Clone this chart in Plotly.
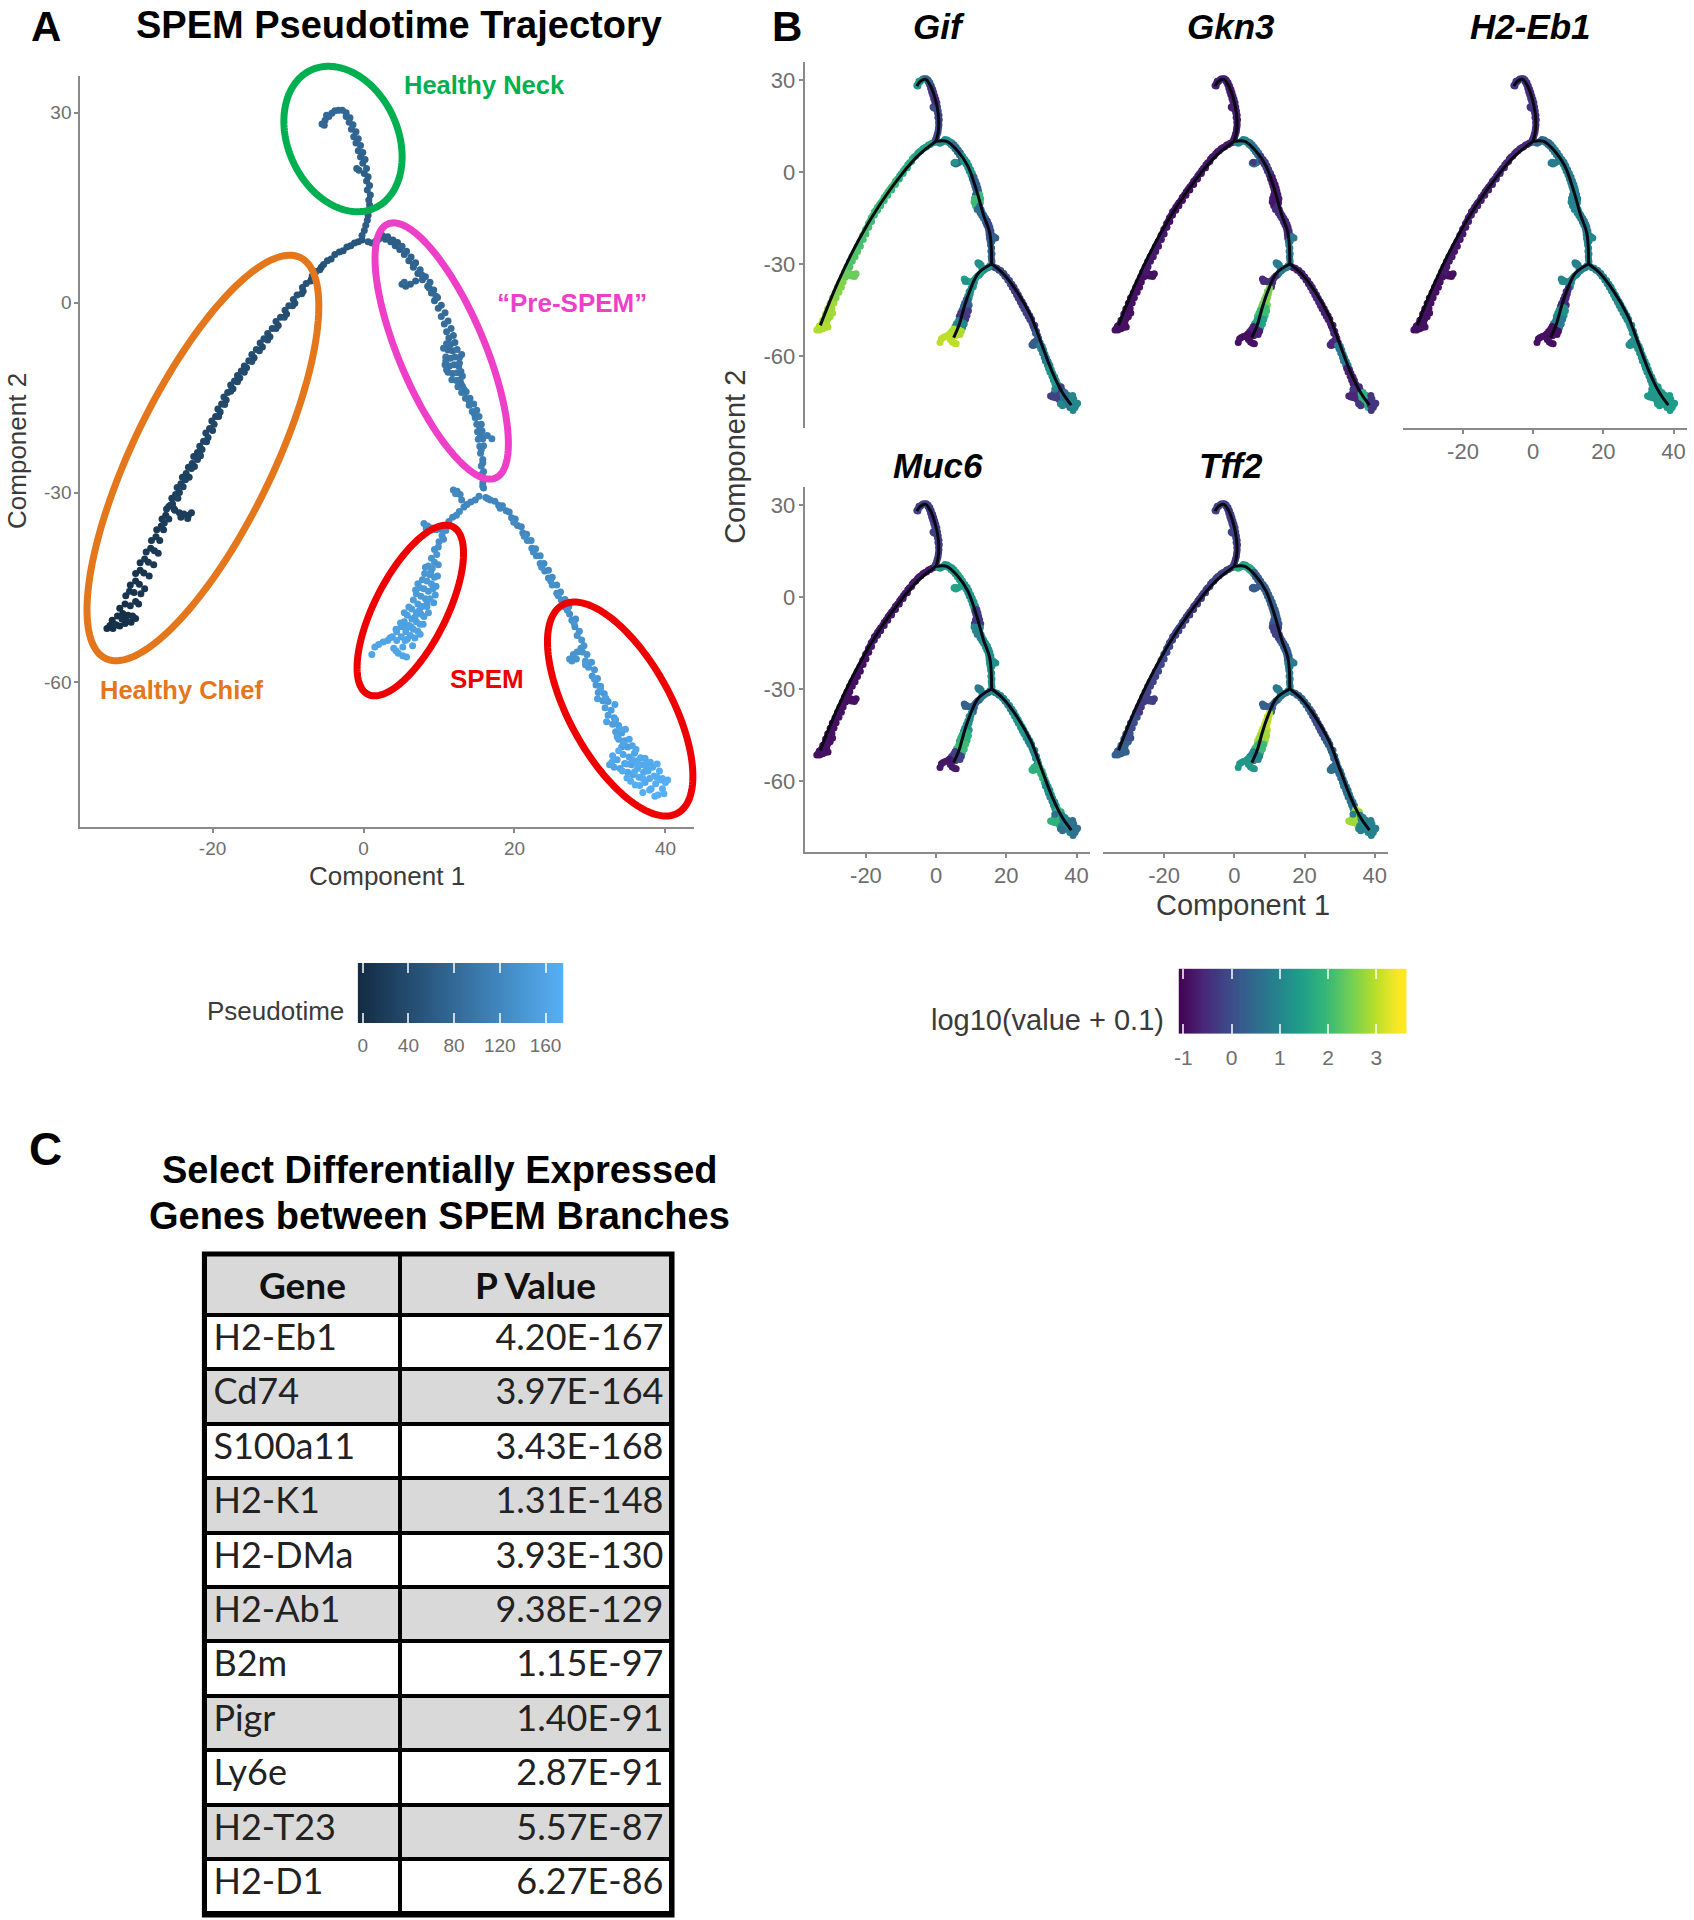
import numpy as np
import plotly.graph_objects as go

# ---------- cell positions (Component 1, Component 2) ----------
left_x = [-34.0,-33.6,-33.2,-32.8,-32.3,-31.6,-30.8,-33.3,-32.6,-31.9,-31.2,-32.3,-31.6,-30.9,-30.2,-31.5,-31.0,-30.4,-29.5,-30.9,-30.2,-29.7,-30.2,-29.6,-29.1,-29.6,-29.0,-28.5,-28.8,-28.2,-27.7,-28.1,-27.5,-27.0,-27.4,-26.8,-26.5,-26.7,-26.2,-25.8,-26.1,-25.8,-25.0,-24.4,-23.8,-23.2,-22.8,-23.3,-24.2,-25.6,-25.1,-25.4,-24.9,-24.6,-24.7,-24.2,-23.9,-24.0,-23.5,-23.1,-23.2,-22.7,-22.4,-22.5,-22.0,-21.6,-21.7,-21.2,-20.8,-20.9,-20.4,-20.0,-20.1,-19.6,-19.2,-19.3,-18.8,-18.4,-18.5,-18.0,-17.6,-17.6,-17.1,-16.7,-16.7,-16.2,-15.8,-15.8,-15.2,-14.8,-14.8,-14.2,-13.8,-13.7,-13.2,-12.7,-12.7,-12.1,-11.6,-11.6,-11.0,-10.5,-10.4,-9.9,-9.4,-9.3,-8.8,-8.2,-8.1,-7.6,-7.0,-6.8,-6.3,-5.8,-5.3,-4.8,-4.3,-3.8,-3.2,-2.7,-2.2,-1.7,-1.2,-0.7,-0.2]
left_y = [-51.5,-51.0,-51.5,-50.9,-51.1,-50.7,-50.5,-50.2,-49.5,-49.1,-49.4,-48.3,-47.6,-47.9,-47.2,-46.3,-45.6,-45.8,-46.0,-44.6,-44.0,-44.5,-42.8,-42.3,-42.7,-41.1,-40.5,-41.0,-39.4,-38.8,-39.2,-37.6,-37.0,-37.6,-35.9,-35.3,-35.9,-34.2,-33.6,-34.2,-32.6,-32.2,-32.8,-33.2,-33.4,-33.6,-33.2,-34.1,-33.9,-32.0,-32.6,-30.9,-30.3,-30.9,-29.2,-28.6,-29.1,-27.6,-27.0,-27.6,-26.0,-25.4,-25.9,-24.3,-23.7,-24.2,-22.7,-21.9,-22.0,-20.6,-19.9,-20.2,-18.7,-18.0,-18.0,-16.8,-16.0,-16.1,-14.9,-14.2,-14.0,-13.0,-12.4,-12.5,-11.5,-10.8,-11.0,-10.0,-9.2,-9.3,-8.2,-7.4,-7.6,-6.4,-5.7,-5.9,-4.9,-4.1,-4.1,-3.0,-2.3,-2.3,-1.2,-0.5,-0.5,0.5,1.2,1.4,2.4,3.0,3.4,4.2,4.9,5.2,6.0,6.6,6.9,7.6,8.0,8.2,8.8,9.0,9.4,9.6,9.9]

neck_x = [-0.2,0.1,0.3,0.5,0.6,0.7,0.8,0.7,0.9,0.5,0.8,0.4,0.6,0.1,0.4,-0.6,-0.9,-0.1,0.2,-0.4,-0.1,-0.7,-0.4,-1.0,-0.7,-1.3,-1.0,-1.6,-1.4,-1.9,-1.8,-2.3,-2.3,-2.8,-3.3,-3.8,-4.2,-4.6,-4.9,-5.1,-5.5,-5.2]
neck_y = [10.6,11.4,12.2,13.0,13.8,14.6,15.4,16.2,17.0,17.8,18.5,19.2,19.9,20.4,21.2,20.9,21.2,22.0,22.6,23.0,23.7,24.0,24.8,25.2,25.9,26.2,27.0,27.4,28.1,28.5,29.2,29.4,30.0,30.4,30.4,30.3,29.9,29.4,29.6,28.8,28.2,28.0]

pre_x = [0.6,1.1,1.6,2.0,2.5,2.9,3.2,3.6,3.9,4.2,4.5,4.8,5.1,5.4,5.7,6.0,6.3,6.6,6.9,7.2,6.9,6.2,5.6,5.1,5.4,7.5,7.8,8.2,8.5,8.8,9.0,9.3,9.4,9.8,9.9,10.3,10.3,10.8,10.7,11.2,11.0,11.6,11.3,11.9,11.5,12.1,11.2,11.8,12.4,10.9,11.5,12.1,12.7,10.8,11.4,12.0,12.6,11.2,11.8,12.4,11.7,12.3,12.8,12.5,13.1,13.0,13.6,13.5,14.1,14.0,14.6,14.4,15.0,14.8,15.3,15.0,15.6,15.1,15.7,15.2,15.8,15.4,15.9,17.0,16.4,15.5,15.8,15.6,15.9,15.7,15.8,15.9]
pre_y = [9.6,9.4,9.7,10.0,10.6,10.0,10.4,9.6,9.9,9.0,9.5,8.4,8.9,7.6,8.1,6.6,7.2,5.6,6.3,4.6,3.4,2.9,2.6,2.9,3.2,5.2,3.6,4.1,2.6,3.2,1.5,2.0,0.3,0.8,-0.9,-0.4,-2.2,-1.6,-3.4,-2.9,-4.6,-4.1,-5.6,-5.2,-6.6,-6.3,-7.5,-7.6,-7.4,-8.6,-8.8,-8.6,-8.7,-9.8,-10.0,-9.8,-10.0,-11.0,-11.2,-11.1,-12.2,-12.3,-12.2,-13.3,-13.2,-14.2,-14.1,-15.1,-15.1,-16.2,-16.0,-17.2,-17.0,-18.2,-18.0,-19.2,-19.2,-20.4,-20.3,-21.6,-21.5,-22.7,-22.6,-21.5,-21.0,-23.8,-24.8,-25.8,-26.7,-27.6,-28.5,-29.3]

right_x = [16.2,16.8,17.4,17.9,18.4,18.9,19.3,19.6,20.1,20.4,20.9,21.1,21.6,21.7,22.2,22.3,22.8,22.9,23.4,23.4,23.9,24.0,24.5,24.5,25.0,25.0,25.6,25.6,26.1,26.2,26.7,26.7,27.2,27.3,27.6,28.1,28.0,28.6,28.3,28.9,28.8,28.3,27.8,27.3,27.6,28.2,29.2,29.0,29.6,29.4,30.2,29.8,30.6,30.3,31.0,30.8,31.4,31.1,31.9,31.7,32.4,32.0,32.8,32.4,33.2,33.0,33.8,33.4,34.2,33.8,34.6,34.2,35.0,35.6,32.6,33.2,33.6,34.0,34.4,34.6,35.0,35.2,35.5,35.7,35.9,36.1,36.3,36.5,36.7,36.9,37.1,37.3,37.5,37.7,37.9,38.1,38.3,38.5,38.7,39.0,39.2,39.4,39.6,40.0,40.3,35.4,33.8,38.9,36.0]
right_y = [-30.8,-31.2,-31.4,-32.0,-32.1,-32.9,-33.1,-34.0,-34.2,-35.2,-35.4,-36.4,-36.6,-37.6,-37.6,-38.8,-38.9,-40.0,-40.0,-41.2,-41.2,-42.4,-42.3,-43.5,-43.4,-44.6,-44.6,-45.9,-45.7,-47.0,-46.9,-48.1,-48.0,-49.2,-50.2,-50.0,-51.2,-51.9,-52.6,-53.3,-54.6,-55.2,-55.6,-56.3,-56.6,-56.3,-54.2,-55.2,-55.6,-56.6,-56.8,-57.6,-58.0,-59.0,-59.4,-60.4,-60.6,-61.6,-61.8,-62.9,-63.0,-64.0,-64.4,-65.2,-65.6,-66.6,-66.8,-67.8,-68.0,-69.0,-69.2,-70.2,-70.2,-70.0,-73.0,-73.4,-72.2,-73.6,-71.4,-72.8,-74.2,-71.8,-73.0,-74.6,-71.2,-72.4,-73.6,-75.0,-71.9,-73.0,-74.2,-75.8,-72.8,-74.0,-75.2,-76.8,-73.4,-74.8,-76.0,-77.8,-74.0,-75.4,-76.8,-75.8,-75.4,-75.6,-70.8,-72.9,-76.2]

spem_x = [15.3,14.8,14.2,13.7,13.3,13.0,12.8,12.4,11.9,12.2,12.7,12.3,11.8,11.3,10.8,10.2,9.6,9.0,8.5,8.0,8.3,10.9,10.4,10.6,10.0,9.9,9.4,9.7,9.0,9.4,8.6,9.1,8.1,8.8,9.4,7.8,8.4,9.0,7.4,8.0,8.6,9.2,7.0,7.6,8.2,8.8,6.6,7.2,7.8,8.4,6.4,7.0,7.6,8.0,5.8,6.4,7.0,7.5,5.4,6.0,6.6,7.2,5.0,5.6,6.2,6.8,4.4,5.0,5.5,3.8,4.4,3.2,2.6,2.0,1.5,4.0,4.6,5.2,5.7,1.1]
spem_y = [-30.6,-31.2,-31.5,-31.9,-32.3,-31.2,-30.3,-29.8,-29.6,-30.2,-33.0,-33.6,-33.9,-34.6,-35.2,-35.8,-35.9,-35.6,-35.3,-34.9,-35.7,-36.0,-36.8,-37.4,-37.8,-38.6,-39.0,-39.8,-40.4,-41.0,-41.6,-42.0,-42.8,-43.0,-43.4,-43.8,-44.0,-44.4,-45.0,-45.2,-45.6,-45.2,-46.0,-46.4,-46.8,-46.8,-47.0,-47.6,-48.0,-48.0,-48.4,-49.0,-49.2,-49.6,-49.4,-50.0,-50.4,-50.8,-50.4,-51.0,-51.6,-51.9,-51.2,-52.0,-52.6,-53.0,-52.0,-52.8,-53.4,-52.8,-53.4,-53.4,-53.6,-54.0,-54.4,-54.6,-55.4,-55.8,-56.0,-55.6]

# further cells that fill out the thick stretches in panel A
fill_left_x = [-33.0,-32.0,-31.5,-30.6,-30.2,-29.8,-29.0,-28.4,-27.8,-27.2,-26.4,-25.3,-24.4,-23.6,-22.8,-22.0,-21.4,-20.6,-19.8,-19.0,-18.2,-17.3,-16.4,-15.5,-14.5,-13.4,-12.4,-11.3,-10.2,-9.1,-8.0,-6.9,-5.6]
fill_left_y = [-50.9,-50.0,-50.0,-49.5,-49.9,-47.6,-45.2,-43.2,-41.4,-39.6,-34.8,-31.8,-30.0,-28.0,-26.2,-24.8,-23.2,-21.3,-19.2,-17.3,-15.4,-13.6,-11.9,-10.3,-8.7,-7.0,-5.4,-3.6,-1.8,-0.1,1.8,3.7,5.6]
fill_left_t = [3,4,4,5,5,8,10,12,14,16,20,22,24,26,28,29,30,31,32,33,34,35,36,37,38,39,40,41,42,43,44,45,46]
fill_pre_x = [6.6,7.7,8.7,9.6,10.6,11.0,12.7,13.0,12.9,13.1,11.0,10.9,13.3,12.9,14.0,14.7,15.4,15.5,15.6,15.8,15.7,15.8]
fill_pre_y = [6.0,4.4,2.3,1.0,-7.2,-6.5,-9.6,-8.2,-10.9,-11.6,-10.6,-9.2,-13.7,-12.8,-15.6,-17.6,-19.6,-21.0,-23.2,-25.3,-27.1,-29.0]
fill_pre_t = [72,76,78,82,92,90,94,92,96,96,94,94,98,97,100,102,104,104,106,106,108,110]
fill_right_x = [16.5,18.1,19.9,21.3,22.5,23.6,24.8,25.8,27.0,27.9,29.4,30.6,31.4,32.1,33.4,34.0,34.4,33.0,32.9,34.9,34.3,36.6,37.3,38.0,37.0,37.9,38.6,34.9,36.1,35.2,33.6,31.0,33.3,32.2,34.7,35.9,37.0,38.9,36.4,37.5,35.6,39.6,39.8]
fill_right_y = [-31.0,-32.5,-34.7,-36.9,-39.4,-41.8,-44.0,-46.3,-48.6,-50.6,-57.2,-59.5,-61.0,-62.5,-65.9,-67.4,-69.7,-71.6,-72.6,-72.9,-74.0,-76.3,-72.0,-72.6,-77.4,-77.0,-78.0,-75.1,-70.6,-69.0,-68.6,-62.6,-63.5,-66.2,-67.4,-74.1,-75.2,-75.0,-72.9,-73.5,-72.2,-75.2,-77.6]
fill_right_t = [118,120,124,126,128,130,132,134,136,138,146,148,150,152,156,158,160,164,164,166,168,172,166,168,172,172,174,170,162,160,158,150,154,156,160,168,170,172,168,168,166,172,174]
fill_spem_x = [8.9,7.2,9.6,6.9,8.4,9.3,6.0,7.4,5.4,8.6,6.8,4.9,7.9,5.7,4.3,7.5,3.5,5.8,6.5,5.2,4.3,6.3,9.5,8.2,9.9,9.8]
fill_spem_y = [-42.6,-44.4,-44.8,-45.4,-47.6,-47.4,-48.1,-48.6,-49.0,-49.0,-49.7,-50.6,-50.8,-51.4,-51.6,-52.4,-53.0,-53.2,-54.2,-54.4,-55.0,-51.2,-46.2,-41.8,-41.4,-43.2]
fill_spem_t = [140,144,144,146,148,148,150,150,152,152,152,154,154,156,156,156,158,158,158,160,160,154,146,138,138,142]

# ---------- tree backbone drawn in black in panel B ----------
tree_left_x = [-33,-28,-22,-16,-10,-5,0]
tree_left_y = [-50,-36,-22,-10.5,-1,5.5,10]
tree_neck_x = [0,0.7,0.6,-0.3,-1.8,-3,-4.5,-5.5]
tree_neck_y = [10,14,19,24,28.5,30.2,29.6,28]
tree_pre_x = [0,3,6,9,11.5,13.5,15.3,15.8]
tree_pre_y = [10,10,7,2,-6,-14,-20,-30]
tree_right_x = [15.8,19,23,27,30,33,36,38.5]
tree_right_y = [-30,-33,-39,-47,-56,-65,-72,-76]
tree_spem_x = [15.8,12,9.5,8,6.5,5]
tree_spem_y = [-30,-33,-39,-44,-50,-54]

# ---------- colour readings, in order along each branch ----------
pseudotime = {
    "left":  [2, 8, 14, 20, 26, 32, 38, 44, 50, 54],
    "neck":  [62, 66, 70, 74, 76, 78],
    "pre":   [64, 70, 78, 86, 94, 100, 106, 110],
    "right": [118, 124, 130, 136, 142, 150, 158, 166, 172],
    "spem":  [118, 124, 132, 140, 146, 150, 154, 158, 160],
}
genes = ["Gif", "Gkn3", "H2-Eb1", "Muc6", "Tff2"]
expression = {
    "Gif": {"left": [2.9,2.8,2.6,2.4,2.2,2.1,2.0,2.0,1.8,1.5],
            "neck": [0.0,-0.2,0.0,-0.5,-0.3,0.3,1.3],
            "pre": [1.2,0.5,1.3,0.3,2.0,0.5,0.0,0.3],
            "right": [0.0,-0.3,-0.2,0.2,0.8,1.3,-0.2,0.6,1.0],
            "spem": [1.2,1.5,1.2,0.3,-0.3,1.0,2.9,3.0]},
    "Gkn3": {"left": [-0.9,-0.9,-0.8,-0.9,-0.8],
             "neck": [-0.8,-0.7,-0.8,-0.7],
             "pre": [1.0,0.6,-0.3,-0.8,-0.8,-0.5,-0.6,0.8],
             "right": [-0.7,-0.6,-0.7,-0.6,0.8,-0.7,-0.6,1.8,-0.4],
             "spem": [0.8,-0.5,2.5,2.0,1.5,-0.7,-0.9]},
    "H2-Eb1": {"left": [-0.9,-0.9,-0.8,-0.7,-0.6],
               "neck": [-0.5,-0.4,-0.5,-0.4],
               "pre": [0.5,0.8,0.8,0.9,1.0,0.8,1.0],
               "right": [1.0,1.1,1.1,1.2,1.2,1.3,1.3,1.4],
               "spem": [0.9,1.0,-0.6,1.2,0.8,-0.9,-0.9]},
    "Muc6": {"left": [-0.9,-0.9,-0.9,-0.8,-0.8],
             "neck": [-0.3,-0.2,-0.4,-0.2],
             "pre": [1.3,1.5,1.3,-0.3,1.0,1.2,1.2],
             "right": [1.0,1.3,1.0,1.8,1.2,1.8,1.0,0.6],
             "spem": [0.8,0.3,1.2,1.8,2.0,-0.2,-0.8]},
    "Tff2": {"left": [0.3,0.0,-0.3,-0.2,-0.1,-0.2,-0.3,-0.2],
             "neck": [-0.3,-0.2,-0.3,-0.2],
             "pre": [1.6,0.2,0.3,0.2,-0.2,0.2,0.8],
             "right": [0.4,0.0,0.3,0.5,0.6,2.8,1.0,0.9],
             "spem": [0.8,0.3,3.0,2.8,2.0,1.0,1.3]},
}

# ---------- table ----------
table_genes = ["H2-Eb1","Cd74","S100a11","H2-K1","H2-DMa","H2-Ab1","B2m","Pigr","Ly6e","H2-T23","H2-D1"]
table_pvalues = ["4.20E-167","3.97E-164","3.43E-168","1.31E-148","3.93E-130","9.38E-129","1.15E-97","1.40E-91","2.87E-91","5.57E-87","6.27E-86"]

# ---------- tick labels ----------
a_xticks = [-20, 0, 20, 40]
a_yticks = [30, 0, -30, -60]
pseudo_ticks = [0, 40, 80, 120, 160]
log_ticks = [-1, 0, 1, 2, 3]

branches = {"left": (left_x, left_y), "neck": (neck_x, neck_y), "pre": (pre_x, pre_y),
            "right": (right_x, right_y), "spem": (spem_x, spem_y)}
trees = [(tree_left_x, tree_left_y), (tree_neck_x, tree_neck_y), (tree_pre_x, tree_pre_y),
         (tree_right_x, tree_right_y), (tree_spem_x, tree_spem_y)]

W, H = 1694, 1920
FONT = "Liberation Sans"
GREY_TXT = "#6e6e6e"
AXIS = "#8a8a8a"
PSEUDO_SCALE = [[0, "#132B43"], [1, "#56B1F7"]]
DXA = -3   # page offset of panels A and C
DXB = -1   # page offset of panel B


def px(x):
    return x / W


def py(y):
    return 1 - y / H


def binned(n, readings):
    parts = np.array_split(np.arange(n), len(readings))
    out = np.zeros(n)
    for p, r in zip(parts, readings):
        out[p] = r
    return out


def axis(left, right, zero, scale, anchor, show=True, ticks=None, size=19, flip=False):
    if flip:
        rng = [(zero - right) / scale, (zero - left) / scale]
        dom = [py(right), py(left)]
    else:
        rng = [(left - zero) / scale, (right - zero) / scale]
        dom = [px(left), px(right)]
    d = dict(domain=dom, range=rng, anchor=anchor, showgrid=False, zeroline=False, fixedrange=True)
    if show:
        d.update(showline=True, linecolor=AXIS, linewidth=2, ticks="outside", ticklen=4,
                 tickcolor=AXIS, tickwidth=2, tickmode="array", tickvals=ticks, ticklabelstandoff=-1,
                 ticktext=[str(t) for t in ticks], tickfont=dict(family=FONT, size=size, color=GREY_TXT))
    else:
        d.update(visible=False)
    return d


fig = go.Figure()
layout = {}

# ---- Panel A ----
AX0, ASX, AY0, ASY = 362.6 + DXA, 7.57, 302.6, 6.33
all_x, all_y, all_t = [], [], []
for name, (bx, by) in branches.items():
    all_x += bx
    all_y += by
    all_t += list(binned(len(bx), pseudotime[name]))
all_x += fill_left_x + fill_pre_x + fill_right_x + fill_spem_x
all_y += fill_left_y + fill_pre_y + fill_right_y + fill_spem_y
all_t += fill_left_t + fill_pre_t + fill_right_t + fill_spem_t
fig.add_trace(go.Scatter(x=all_x, y=all_y, mode="markers", xaxis="x", yaxis="y", showlegend=False,
                         marker=dict(size=7, color=all_t, cmin=-4.4, cmax=175.6,
                                     colorscale=PSEUDO_SCALE, line=dict(width=0))))
layout["xaxis"] = axis(78.5 + DXA, 694 + DXA, AX0, ASX, "y", ticks=a_xticks)
layout["yaxis"] = axis(76, 827, AY0, ASY, "x", ticks=a_yticks, flip=True)

# hand-drawn ellipses on the page: centre x, centre y, semi-axes, tilt, colour
ovals = [(342, 139, 76, 55, -65, "#00b050"),
         (201.5, 458, 223, 70, 64, "#e4761b"),
         (441, 351, 138, 43, -67, "#ee3fc8"),
         (409.5, 610.5, 94, 36, 63, "#ee0000"),
         (620, 709, 119, 51, -61, "#ee0000")]
th = np.linspace(0, 2 * np.pi, 160)
oval_shapes = []
for cx, cy, a, b, ang, col in ovals:
    r = np.radians(ang)
    ex = cx + DXA + a * np.cos(th) * np.cos(r) - b * np.sin(th) * np.sin(r)
    ey = cy - a * np.cos(th) * np.sin(r) - b * np.sin(th) * np.cos(r)
    path = "M " + " L ".join(f"{px(u):.5f} {py(v):.5f}" for u, v in zip(ex, ey)) + " Z"
    oval_shapes.append(dict(type="path", path=path, xref="paper", yref="paper", layer="above",
                            line=dict(color=col, width=7), fillcolor="rgba(0,0,0,0)"))

# ---- Panel B ----
cols = [(803, 1089, 934.9), (1102, 1388, 1234), (1403, 1688, 1533.7)]
rows = [(62, 428, 172), (487, 852, 597)]
BSX, BSY = 3.52, 3.067
place = [(0, 0, False, True), (1, 0, False, False), (2, 0, True, False), (0, 1, True, True), (1, 1, True, False)]
for i, gene in enumerate(genes):
    c, r, showx, showy = place[i]
    n = i + 2
    xa, ya = f"x{n}", f"y{n}"
    for name, (bx, by) in branches.items():
        fig.add_trace(go.Scatter(x=bx, y=by, mode="markers", xaxis=xa, yaxis=ya, showlegend=False,
                                 marker=dict(size=7, color=binned(len(bx), expression[gene][name]),
                                             cmin=-1.1, cmax=3.45, colorscale="Viridis", line=dict(width=0))))
    for tx, ty in trees:
        fig.add_trace(go.Scatter(x=tx, y=ty, mode="lines", xaxis=xa, yaxis=ya, showlegend=False,
                                 line=dict(color="#0a0a14", width=3, shape="spline")))
    l, rr, z = cols[c]
    t, b, yz = rows[r]
    layout[f"xaxis{n}"] = axis(l + DXB, rr + DXB, z + DXB, BSX, ya, show=showx, ticks=a_xticks, size=22)
    layout[f"yaxis{n}"] = axis(t, b, yz, BSY, xa, show=showy, ticks=a_yticks, size=22, flip=True)


# ---- Colour bars ----
def bar(n, left, right, top, bottom, lo, hi, ticks, scale, size, standoff, zhi):
    vals = np.linspace(lo, hi, 128)
    fig.add_trace(go.Heatmap(x=vals, y=[0, 1], z=[vals, vals], colorscale=scale, zsmooth="best",
                             zmin=lo, zmax=zhi, showscale=False, xaxis=f"x{n}", yaxis=f"y{n}", hoverinfo="skip"))
    layout[f"xaxis{n}"] = dict(domain=[px(left), px(right)], range=[lo, hi], anchor=f"y{n}", showgrid=False,
                               zeroline=False, showline=False, ticks="inside", mirror="ticks", ticklen=10,
                               tickcolor="rgba(255,255,255,0.75)", tickwidth=2, tickmode="array", tickvals=ticks,
                               ticktext=[str(t) for t in ticks], layer="above traces", fixedrange=True,
                               ticklabelstandoff=standoff, tickfont=dict(family=FONT, size=size, color=GREY_TXT))
    layout[f"yaxis{n}"] = dict(domain=[py(bottom), py(top)], range=[0, 1], anchor=f"x{n}", visible=False, fixedrange=True)


bar(7, 356.7 + DXA, 563 + DXA, 963, 1023, -4.4, 175.6, pseudo_ticks, PSEUDO_SCALE, 19, 9, 175.6)
bar(8, 1178 + DXB, 1407 + DXB, 968.6, 1034, -1.1, 3.63, log_ticks, "Viridis", 21, 9, 3.45)

# ---- Table ----
fills = ["#ffffff" if i % 2 == 0 else "#d9d9d9" for i in range(len(table_genes))]
fig.add_trace(go.Table(
    domain=dict(x=[px(204 + DXA), px(672 + DXA)], y=[py(1918), py(1254)]),
    columnwidth=[195, 273],
    header=dict(values=["<b>Gene</b>", "<b>P Value</b>"], height=57, align="center",
                fill_color="#d9d9d9", line=dict(color="black", width=4),
                font=dict(family="Lato", size=37, color="#111111")),
    cells=dict(values=[table_genes, table_pvalues], height=54.4, align=["left", "right"],
               fill_color=[fills, fills], line=dict(color="black", width=4),
               font=dict(family="Lato", size=36, color="#222222")),
))


# ---- Text ----
def note(text, x, y, size, color="#000000", bold=False, italic=False, angle=0, family=FONT):
    if bold:
        text = f"<b>{text}</b>"
    if italic:
        text = f"<i>{text}</i>"
    return dict(text=text, x=px(x), y=py(y), xref="paper", yref="paper", xanchor="center", yanchor="middle",
                showarrow=False, textangle=angle, font=dict(family=family, size=size, color=color))


notes = [
    note("A", 44 + DXA, 27, 42, bold=True), note("B", 785 + DXB, 27, 42, bold=True), note("C", 44 + DXA, 1149, 46, bold=True),
    note("SPEM Pseudotime Trajectory", 398 + DXA, 25, 38, bold=True),
    note("Healthy Neck", 484 + DXA, 85, 25.5, "#00b050", bold=True),
    note("“Pre-SPEM”", 572 + DXA, 303, 26, "#ee3fc8", bold=True),
    note("Healthy Chief", 180 + DXA, 690, 25.5, "#e4761b", bold=True),
    note("SPEM", 486 + DXA, 679, 26, "#ee0000", bold=True),
    note("Component 1", 386 + DXA, 876, 26, "#3a3a3a"),
    note("Component 2", 15 + DXA, 451, 26, "#3a3a3a", angle=-90),
    note("Component 1", 1243 + DXB, 905, 29, "#3a3a3a"),
    note("Component 2", 733 + DXB, 457, 29, "#3a3a3a", angle=-90),
    note("Pseudotime", 274 + DXA, 1011, 26, "#3a3a3a"),
    note("log10(value + 0.1)", 1047 + DXB, 1020, 29, "#3a3a3a"),
    note("Select Differentially Expressed", 439 + DXA, 1170, 38, bold=True),
    note("Genes between SPEM Branches", 439 + DXA, 1216, 38, bold=True),
]
titles = [(938, 27), (1231, 27), (1531, 27), (937, 465), (1231, 465)]
for g, (tx, ty) in zip(genes, titles):
    notes.append(note(g, tx + DXB, ty, 35, bold=True, italic=True))

outer = dict(type="rect", xref="paper", yref="paper", x0=px(203 + DXA), x1=px(672 + DXA), y0=py(1915), y1=py(1254),
             line=dict(color="black", width=5), fillcolor="rgba(0,0,0,0)")

fig.update_layout(width=W, height=H, autosize=False, margin=dict(l=0, r=0, t=0, b=0),
                  paper_bgcolor="white", plot_bgcolor="white", showlegend=False,
                  annotations=notes, shapes=oval_shapes + [outer], **layout)

fig.write_html("out.html", include_plotlyjs=True,
               post_script="document.body.style.margin='0';document.body.style.overflow='hidden';",
               config={"displayModeBar": False})
